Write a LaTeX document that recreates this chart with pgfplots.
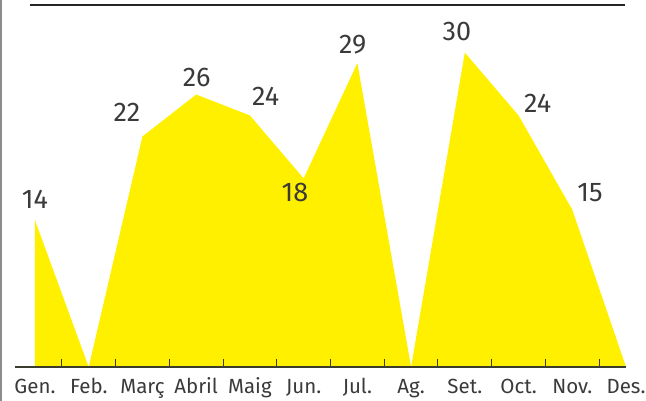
\documentclass[border=0pt]{standalone}
\usepackage{pgfplots}
\pgfplotsset{compat=1.18}
\usepackage{fontspec}
\setmainfont{Fira Sans}
\definecolor{fillyellow}{RGB}{255,240,0}
\definecolor{txt}{RGB}{58,58,58}
\definecolor{axisdark}{RGB}{60,60,45}

\begin{document}
\begin{tikzpicture}
\begin{axis}[
    scale only axis,
    width=610.9pt,
    height=366.8pt,
    xmin=-0.37, xmax=11,
    ymin=0, ymax=35,
    axis on top,
    axis x line*=bottom,
    axis y line=none,
    axis line style={axisdark, line width=1.2pt},
    xtick={0,...,11},
    xticklabels={Gen.,Feb.,Març,Abril,Maig,Jun.,Jul.,Ag.,Set.,Oct.,Nov.,Des.},
    minor xtick={0.5,1.5,...,10.5},
    tick align=inside,
    major tick length=0pt,
    minor tick length=8pt,
    minor tick style={axisdark, line width=1pt},
    xticklabel style={anchor=base, yshift=-27pt, text=txt, font=\fontsize{20.5}{22}\selectfont},
    clip=false,
]
% monthly values
\addplot[fill=fillyellow, draw=none] coordinates {
(0,14) (1,0) (2,22) (3,26) (4,24) (5,18) (6,29) (7,0) (8,30) (9,24) (10,15) (11,0)
} \closedcycle;

% value labels
\begin{scope}[every node/.style={anchor=base, text=txt, font=\fontsize{27}{30}\selectfont, inner sep=0pt}]
\node at (axis cs:0,15.08) {14};
\node at (axis cs:1.712,23.41) {22};
\node at (axis cs:3.01,26.81) {26};
\node at (axis cs:4.294,24.93) {24};
\node at (axis cs:4.839,15.77) {18};
\node at (axis cs:5.913,29.96) {29};
\node at (axis cs:7.854,31.20) {30};
\node at (axis cs:9.357,24.30) {24};
\node at (axis cs:10.33,15.77) {15};
\end{scope}

% frame lines
\draw[black!85, line width=1.3pt] (axis cs:-0.093,34.54) -- (axis cs:10.98,34.54);
\draw[black!45, line width=2pt] (axis cs:-0.6235,35.02) -- (axis cs:-0.6235,-3.244);

\coordinate (ll) at (axis cs:-0.6514,-3.244);
\coordinate (ur) at (axis cs:11.372,35.02);
\end{axis}
\pgfresetboundingbox
\useasboundingbox (ll) rectangle (ur);
\end{tikzpicture}
\end{document}
